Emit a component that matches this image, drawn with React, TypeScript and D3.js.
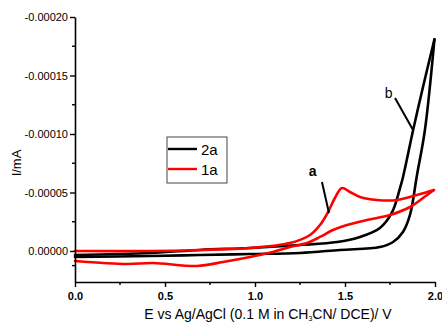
import { useEffect, useRef } from 'react';
import * as d3 from 'd3';

// compound 2a, forward and reverse sweeps: [E (V), I (mA)]
const black_fwd: [number, number][] = [
  [0.0, 5.1e-6], [0.417, 4.3e-6], [0.694, 3.4e-6], [0.972, 2.6e-6], [1.25, 1.7e-6],
  [1.472, -0.9e-6], [1.694, -3.4e-6], [1.767, -7.7e-6], [1.822, -16.2e-6],
  [1.861, -30.8e-6], [1.9, -65e-6], [1.944, -103.4e-6], [1.997, -181e-6],
];
const black_rev: [number, number][] = [
  [1.997, -181e-6], [1.933, -140e-6], [1.878, -103e-6], [1.822, -63e-6], [1.806, -54e-6],
  [1.761, -33e-6], [1.694, -19.7e-6], [1.583, -12e-6], [1.456, -7.7e-6], [1.25, -5.1e-6],
  [0.972, -2.6e-6], [0.694, -0.9e-6], [0.417, 1.7e-6], [0.0, 3.4e-6],
];

// compound 1a
const red_fwd: [number, number][] = [
  [0.0, 0], [0.417, 0], [0.694, -0.9e-6], [0.972, -2.6e-6], [1.194, -6.8e-6],
  [1.306, -13.7e-6], [1.361, -22.2e-6], [1.406, -33.3e-6], [1.444, -45.3e-6],
  [1.483, -53.8e-6], [1.528, -50.4e-6], [1.583, -46.2e-6], [1.678, -43.6e-6],
  [1.789, -43.6e-6], [1.9, -47.9e-6], [1.994, -52.1e-6],
];
const red_rev: [number, number][] = [
  [1.994, -52.1e-6], [1.956, -47.9e-6], [1.861, -37.6e-6], [1.75, -30.8e-6],
  [1.622, -26.5e-6], [1.511, -22.2e-6], [1.433, -17.9e-6], [1.361, -12.0e-6],
  [1.289, -6.8e-6], [1.194, -3.4e-6], [1.1, 0.9e-6], [0.972, 5.1e-6], [0.822, 9.4e-6],
  [0.678, 12.8e-6], [0.433, 10.3e-6], [0.289, 11.1e-6], [0.0, 8.5e-6],
];

const xTicks = [0, 0.5, 1.0, 1.5, 2.0];
const xMinor = [0.25, 0.75, 1.25, 1.75];
const yTicks = [-0.0002, -0.00015, -0.0001, -0.00005, 0];
const yMinor = [-0.000175, -0.000125, -0.000075, -0.000025, 0.0000125];

const legendItems = [
  { name: '2a', color: '#000' },
  { name: '1a', color: '#ff0000' },
];

// pointer labels in data space
const notes: { label: string; bold: boolean; at: [number, number]; from: [number, number]; to: [number, number] }[] = [
  { label: 'a', bold: true, at: [1.32, -64e-6], from: [1.372, -59e-6], to: [1.411, -32.5e-6] },
  { label: 'b', bold: false, at: [1.742, -131e-6], from: [1.778, -130.8e-6], to: [1.878, -103.4e-6] },
];

export default function App() {
  const ref = useRef<SVGSVGElement>(null);

  useEffect(() => {
    const width = 442, height = 325;
    const svg = d3.select(ref.current);
    svg.selectAll('*').remove();
    svg.attr('width', width).attr('height', height);

    const x = d3.scaleLinear().domain([0, 2]).range([75, 435]);
    const y = d3.scaleLinear().domain([-0.0002, 0.0000265]).range([17, 282]);
    const font = 'Arial, "Liberation Sans", sans-serif';
    // plain hyphen for the minus sign, as in the original
    const fmtY = (d: d3.NumberValue) => d3.format('.5f')(d).replace('\u2212', '-');

    const line = d3.line<[number, number]>()
      .x(d => x(d[0]))
      .y(d => y(d[1]))
      .curve(d3.curveCatmullRom.alpha(0.5));

    const curves = [
      { data: black_fwd, color: '#000' },
      { data: black_rev, color: '#000' },
      { data: red_fwd, color: '#ff0000' },
      { data: red_rev, color: '#ff0000' },
    ];
    svg.append('g').selectAll('path')
      .data(curves)
      .join('path')
      .attr('d', d => line(d.data))
      .attr('fill', 'none')
      .attr('stroke', d => d.color)
      .attr('stroke-width', 2.6)
      .attr('stroke-linejoin', 'round')
      .attr('stroke-linecap', 'round');

    // axes
    const xAxis = svg.append('g').attr('transform', 'translate(0,282)');
    xAxis.call(
      d3.axisBottom(x).tickValues(xTicks).tickSize(5).tickSizeOuter(0).tickFormat(d3.format('.1f'))
    );
    xAxis.select('.domain').attr('stroke-width', 1.6);
    xAxis.selectAll('.tick line').attr('stroke-width', 1.4);
    xAxis.selectAll('text').attr('font-family', font).attr('font-size', 11)
      .attr('font-weight', 'bold').attr('dy', '0.95em').attr('fill', '#000');
    xAxis.append('g').selectAll('line').data(xMinor).join('line')
      .attr('x1', d => x(d)).attr('x2', d => x(d)).attr('y1', 0).attr('y2', 3)
      .attr('stroke', '#000').attr('stroke-width', 1.4);

    const yAxis = svg.append('g').attr('transform', 'translate(75,0)');
    yAxis.call(
      d3.axisLeft(y).tickValues(yTicks).tickSize(5).tickSizeOuter(0).tickFormat(fmtY)
    );
    yAxis.select('.domain').attr('stroke-width', 1.6);
    yAxis.selectAll('.tick line').attr('stroke-width', 1.4);
    yAxis.selectAll('text').attr('font-family', font).attr('font-size', 11).attr('fill', '#000').attr('x', -7);
    yAxis.append('g').selectAll('line').data(yMinor).join('line')
      .attr('x1', -3).attr('x2', 0).attr('y1', d => y(d)).attr('y2', d => y(d))
      .attr('stroke', '#000').attr('stroke-width', 1.4);

    // axis titles
    const xt = svg.append('text')
      .attr('x', 268).attr('y', 319)
      .attr('text-anchor', 'middle')
      .attr('font-family', font).attr('font-size', 14).attr('fill', '#000');
    xt.append('tspan').text('E vs Ag/AgCl (0.1 M in CH');
    xt.append('tspan').attr('font-size', 7).attr('dy', 2).text('3');
    xt.append('tspan').attr('dy', -2).text('CN/ DCE)/ V');

    svg.append('text')
      .attr('transform', 'translate(21,163) rotate(-90)')
      .attr('text-anchor', 'middle')
      .attr('font-family', font).attr('font-size', 13).attr('fill', '#000')
      .text('I/mA');

    // legend
    const lg = svg.append('g').attr('transform', 'translate(167,137)');
    lg.append('rect').attr('width', 60).attr('height', 46)
      .attr('fill', 'none').attr('stroke', '#444').attr('stroke-width', 1);
    const li = lg.selectAll('g.item').data(legendItems).join('g')
      .attr('class', 'item')
      .attr('transform', (_, i) => `translate(0,${12 + i * 20})`);
    li.append('line').attr('x1', 1).attr('x2', 30).attr('y1', 0).attr('y2', 0)
      .attr('stroke', d => d.color).attr('stroke-width', 2.4);
    li.append('text').attr('x', 34).attr('y', 5.5)
      .attr('font-family', font).attr('font-size', 15).attr('fill', '#000')
      .text(d => d.name);

    // pointers
    const ng = svg.append('g');
    notes.forEach(n => {
      ng.append('line')
        .attr('x1', x(n.from[0])).attr('y1', y(n.from[1]))
        .attr('x2', x(n.to[0])).attr('y2', y(n.to[1]))
        .attr('stroke', '#000').attr('stroke-width', 2);
      ng.append('text')
        .attr('x', x(n.at[0])).attr('y', y(n.at[1]))
        .attr('text-anchor', 'middle')
        .attr('font-family', font).attr('font-size', 14)
        .attr('font-weight', n.bold ? 'bold' : 'normal')
        .text(n.label);
    });
  }, []);

  return (
    <svg ref={ref} style={{ position: 'absolute', left: 0, top: 0, background: '#fff' }}></svg>
  );
}
